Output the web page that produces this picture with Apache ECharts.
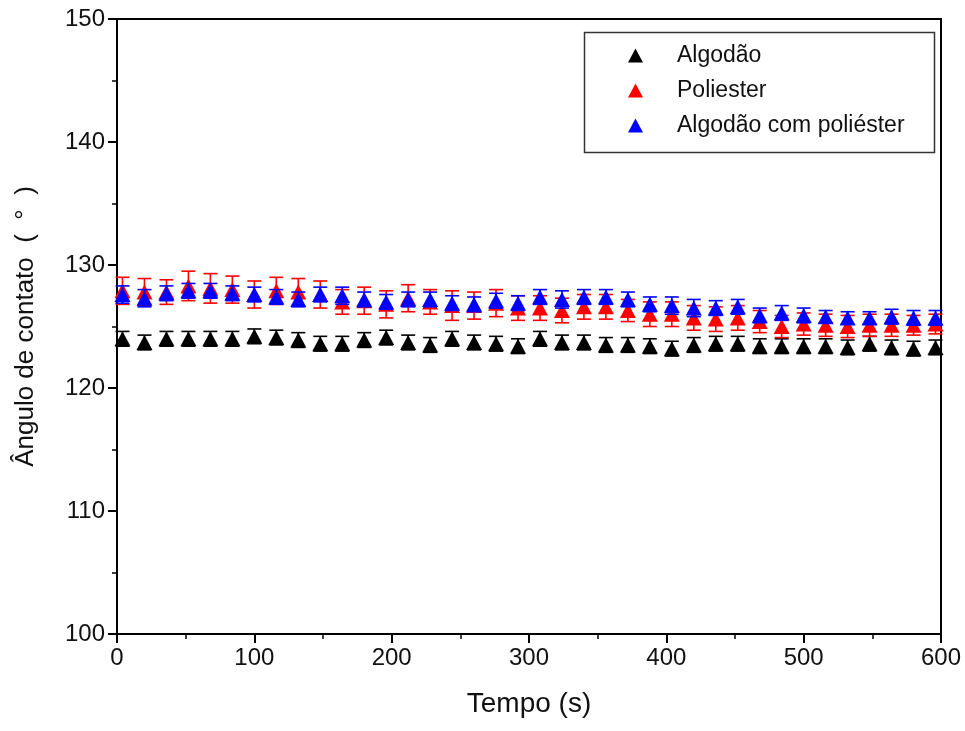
<!DOCTYPE html>
<html><head><meta charset="utf-8">
<script src="https://cdn.jsdelivr.net/npm/echarts@6/dist/echarts.min.js"></script>
<style>html,body{margin:0;padding:0;background:#fff}#c{width:965px;height:731px}</style>
</head><body><div id="c"></div>
<script>
const times = [4,20,36,52,68,84,100,116,132,148,164,180,196,212,228,244,260,276,292,308,324,340,356,372,388,404,420,436,452,468,484,500,516,532,548,564,580,596];
const algodao = [124.0,123.7,124.0,124.0,124.0,124.0,124.2,124.1,123.9,123.6,123.6,123.9,124.1,123.7,123.5,124.0,123.7,123.6,123.4,124.0,123.7,123.7,123.5,123.5,123.4,123.2,123.5,123.6,123.6,123.4,123.4,123.4,123.4,123.3,123.6,123.3,123.2,123.3];
const algodaoErr = [0.6,0.6,0.6,0.6,0.6,0.6,0.6,0.6,0.6,0.6,0.6,0.6,0.6,0.6,0.6,0.6,0.6,0.6,0.6,0.6,0.6,0.6,0.6,0.6,0.6,0.6,0.6,0.6,0.6,0.6,0.6,0.6,0.6,0.6,0.6,0.6,0.6,0.6];
const poliester = [127.9,127.8,127.8,128.3,128.1,128.0,127.6,127.9,127.8,127.6,127.0,127.1,126.8,127.3,127.0,126.7,126.7,126.9,126.5,126.5,126.3,126.6,126.6,126.3,126.0,126.0,125.7,125.6,125.7,125.4,125.0,125.2,125.1,125.0,125.1,125.1,125.1,125.2];
const poliesterErr = [1.1,1.1,1.0,1.2,1.2,1.1,1.1,1.1,1.1,1.1,1.0,1.1,1.1,1.1,1.0,1.2,1.1,1.1,1.0,1.0,1.0,1.0,1.0,0.9,1.0,1.0,1.0,1.0,1.0,0.9,0.9,0.9,0.9,0.9,0.9,0.9,0.8,0.8];
const mistura = [127.6,127.3,127.7,127.9,127.9,127.7,127.6,127.4,127.2,127.6,127.5,127.2,127.0,127.2,127.2,126.9,126.8,127.1,126.9,127.4,127.2,127.4,127.4,127.2,126.8,126.7,126.5,126.5,126.6,125.9,126.1,125.9,125.8,125.7,125.7,125.8,125.7,125.7];
const misturaErr = [0.7,0.7,0.6,0.6,0.6,0.6,0.6,0.6,0.6,0.6,0.7,0.6,0.6,0.6,0.6,0.6,0.6,0.6,0.6,0.6,0.7,0.6,0.6,0.6,0.6,0.7,0.7,0.6,0.6,0.6,0.6,0.6,0.5,0.5,0.5,0.6,0.6,0.6];
const seriesNames = ['Algodão','Poliester','Algodão com poliéster'];
const colors = ['#000000','#ff0000','#0000ff'];
const xTicks = [0,100,200,300,400,500,600];
const yTicks = [100,110,120,130,140,150];

const FONT = "'Liberation Sans', Arial, sans-serif";
const chart = echarts.init(document.getElementById('c'));
const sets = [[algodao,algodaoErr],[poliester,poliesterErr],[mistura,misturaErr]];
const series = [];
sets.forEach((s, k) => {
  series.push({
    type: 'custom', name: seriesNames[k] + ' err', z: 2 + 2*k, silent: true,
    data: times.map((t,i)=>[t, s[0][i], s[1][i]]),
    renderItem: function(params, api) {
      const x = api.value(0), y = api.value(1), e = api.value(2);
      const top = api.coord([x, y+e]);
      const bot = api.coord([x, y-e]);
      const hw = 7;
      const st = {stroke: colors[k], lineWidth: 1.6};
      return {type: 'group', children: [
        {type:'line', shape:{x1:top[0],y1:top[1],x2:bot[0],y2:bot[1]}, style:st},
        {type:'line', shape:{x1:top[0]-hw,y1:top[1],x2:top[0]+hw,y2:top[1]}, style:st},
        {type:'line', shape:{x1:bot[0]-hw,y1:bot[1],x2:bot[0]+hw,y2:bot[1]}, style:st}
      ]};
    }
  });
  series.push({
    type: 'scatter', name: seriesNames[k], z: 3 + 2*k,
    symbol: 'triangle', symbolSize: [16,15],
    itemStyle: {color: colors[k], opacity: 1},
    emphasis: {disabled: true},
    data: times.map((t,i)=>[t, s[0][i]])
  });
});

chart.setOption({
  animation: false,
  backgroundColor: '#fff',
  grid: {left: 117, right: 24, top: 19, bottom: 97, show: true, borderColor: '#000', borderWidth: 2, backgroundColor: 'transparent'},
  xAxis: {
    type: 'value', min: xTicks[0], max: xTicks[xTicks.length-1], interval: 100,
    name: 'Tempo (s)', nameLocation: 'middle', nameGap: 56,
    nameTextStyle: {fontFamily: FONT, fontSize: 28, color: '#111'},
    axisLine: {show: true, onZero: false, lineStyle: {color: '#000', width: 2}},
    axisTick: {show: true, inside: false, length: 9, lineStyle: {color: '#000', width: 2}},
    minorTick: {show: true, splitNumber: 2, length: 5, lineStyle: {color: '#000', width: 1.5}},
    splitLine: {show: false},
    axisLabel: {fontFamily: FONT, fontSize: 24, color: '#111', margin: 12}
  },
  yAxis: {
    type: 'value', min: yTicks[0], max: yTicks[yTicks.length-1], interval: 10,
    name: 'Ângulo de contato  (  °  )', nameLocation: 'middle', nameGap: 78,
    nameTextStyle: {fontFamily: FONT, fontSize: 26, color: '#111'},
    axisLine: {show: true, onZero: false, lineStyle: {color: '#000', width: 2}},
    axisTick: {show: true, inside: false, length: 9, lineStyle: {color: '#000', width: 2}},
    minorTick: {show: true, splitNumber: 2, length: 5, lineStyle: {color: '#000', width: 1.5}},
    splitLine: {show: false},
    axisLabel: {fontFamily: FONT, fontSize: 24, color: '#111', margin: 12}
  },
  legend: {
    orient: 'vertical', left: 623, top: 39,
    data: seriesNames.map(n => ({name: n, icon: 'triangle'})),
    itemWidth: 15, itemHeight: 14, itemGap: 12,
    textStyle: {fontFamily: FONT, fontSize: 23, color: '#111', padding: [0,0,0,29]},
    selectedMode: false
  },
  graphic: [{type: 'rect', left: 582, top: 30, shape: {width: 350, height: 120},
    style: {fill: 'none', stroke: '#333', lineWidth: 1.5}, z: 10}],
  series: series
});
</script></body></html>
